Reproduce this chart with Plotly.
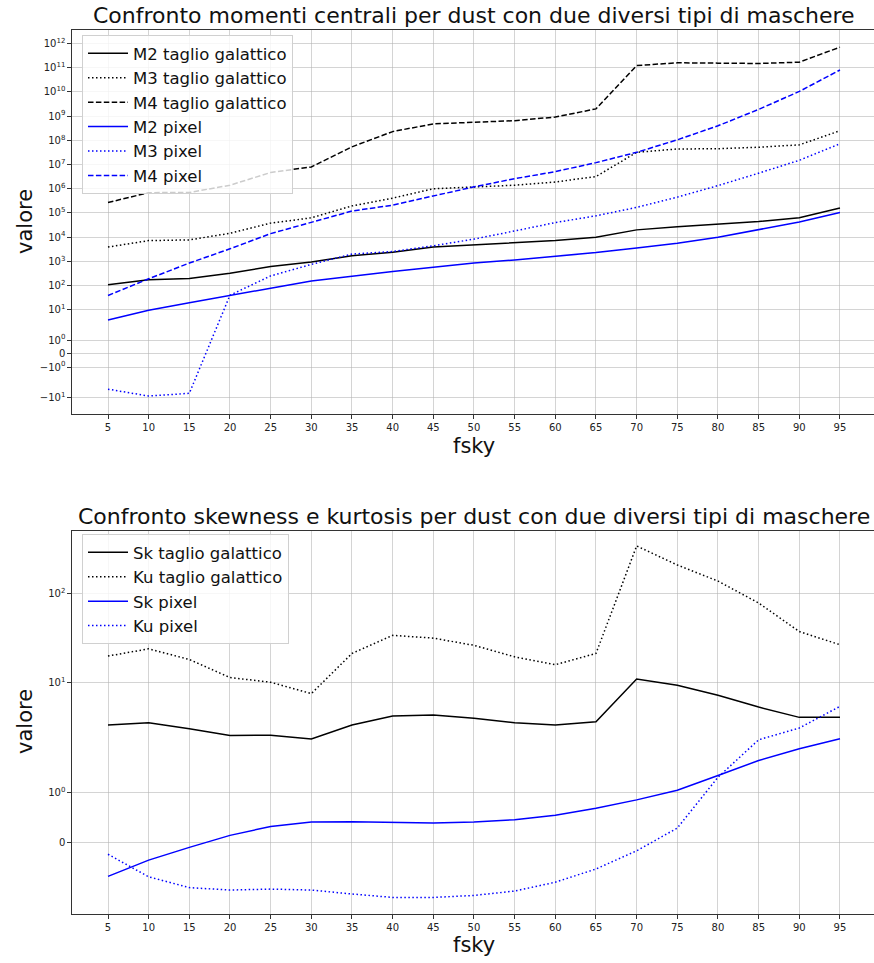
import numpy as np
import plotly.graph_objects as go

# ---- data -------------------------------------------------------------
fsky = [5, 10, 15, 20, 25, 30, 35, 40, 45, 50, 55, 60, 65, 70, 75, 80, 85, 90, 95]

m2_taglio = [107, 172, 195, 325, 610, 940, 1700, 2400, 3900, 4800, 5600, 7200,
             1.0e4, 2.0e4, 2.7e4, 3.5e4, 4.4e4, 6.4e4, 1.6e5]
m3_taglio = [3900, 7200, 7700, 1.45e4, 3.8e4, 6.3e4, 1.96e5, 4.1e5, 1.0e6, 1.2e6,
             1.4e6, 1.9e6, 3.2e6, 3.2e7, 4.4e7, 4.5e7, 5.2e7, 6.5e7, 2.5e8]
m4_taglio = [2.7e5, 6.9e5, 7.0e5, 1.4e6, 4.7e6, 8.0e6, 5.4e7, 2.3e8, 4.8e8, 5.6e8,
             6.5e8, 9.2e8, 2.0e9, 1.23e11, 1.6e11, 1.55e11, 1.5e11, 1.7e11, 7.1e11]
m2_pixel = [3.8, 9.5, 19.5, 40, 78, 155, 250, 380, 570, 850, 1150, 1600, 2300,
            3600, 5600, 1.0e4, 2.0e4, 4.2e4, 1.05e5]
m3_pixel = [-4.6, -8.8, -6.8, 40, 250, 750, 2000, 2550, 4400, 8300, 1.8e4, 4.0e4,
            7.6e4, 1.7e5, 4.5e5, 1.35e6, 4.4e6, 1.5e7, 7.2e7]
m4_pixel = [39, 190, 850, 3300, 1.4e4, 4.2e4, 1.2e5, 2.1e5, 5.2e5, 1.2e6, 2.6e6,
            5.1e6, 1.2e7, 3.2e7, 1.05e8, 4.0e8, 1.9e9, 1.05e10, 8.1e10]

sk_taglio = [3.28, 3.48, 2.98, 2.50, 2.51, 2.27, 3.27, 4.15, 4.26, 3.91, 3.48, 3.27,
             3.57, 10.9, 9.27, 7.11, 5.23, 4.0, 4.0]
ku_taglio = [19.8, 23.9, 18.1, 11.3, 10.0, 7.43, 21.2, 34, 31.6, 26.2, 19.4, 15.8,
             21.2, 350, 213, 140, 79, 37.5, 26.6]
sk_pixel = [-0.70, -0.37, -0.11, 0.135, 0.318, 0.408, 0.414, 0.394, 0.388, 0.408,
            0.455, 0.544, 0.687, 0.859, 1.056, 1.356, 1.662, 1.90, 2.29]
ku_pixel = [-0.25, -0.71, -0.93, -0.98, -0.96, -0.98, -1.06, -1.13, -1.13, -1.09,
            -1.00, -0.82, -0.55, -0.18, 0.285, 1.32, 2.23, 3.03, 5.33]

top_ticks = [1e12, 1e11, 1e10, 1e9, 1e8, 1e7, 1e6, 1e5, 1e4, 1e3, 1e2, 1e1, 1, 0, -1, -10]
top_ticktext = ["10<sup>12</sup>", "10<sup>11</sup>", "10<sup>10</sup>", "10<sup>9</sup>",
                "10<sup>8</sup>", "10<sup>7</sup>", "10<sup>6</sup>", "10<sup>5</sup>",
                "10<sup>4</sup>", "10<sup>3</sup>", "10<sup>2</sup>", "10<sup>1</sup>",
                "10<sup>0</sup>", "0", "\u221210<sup>0</sup>", "\u221210<sup>1</sup>"]
bot_ticks = [1e2, 1e1, 1, 0]
bot_ticktext = ["10<sup>2</sup>", "10<sup>1</sup>", "10<sup>0</sup>", "0"]

# ---- symmetric log scale (linthresh=2, linscale=1), in decade units ----
LINTHRESH = 2.0
LINSCALE_ADJ = 1.0 / (1.0 - 1.0 / 10.0)


def symlog(values):
    v = np.asarray(values, dtype=float)
    a = np.abs(v)
    out = np.where(
        a <= LINTHRESH,
        v * LINSCALE_ADJ / LINTHRESH,
        np.sign(v) * (LINSCALE_ADJ + np.log10(np.maximum(a, 1e-300) / LINTHRESH)),
    )
    return out


W, H = 874, 963


def px(x):
    return x / W


def py(y):
    return 1 - y / H


BLACK = "#000000"
BLUE = "#0000ff"
DASH = "5.5px,2.4px"
DOT = "1.5px,2.5px"
FONT = "DejaVu Sans"

fig = go.Figure()

top_series = [
    ("M2 taglio galattico", m2_taglio, BLACK, "solid"),
    ("M3 taglio galattico", m3_taglio, BLACK, DOT),
    ("M4 taglio galattico", m4_taglio, BLACK, DASH),
    ("M2 pixel", m2_pixel, BLUE, "solid"),
    ("M3 pixel", m3_pixel, BLUE, DOT),
    ("M4 pixel", m4_pixel, BLUE, DASH),
]
for name, vals, col, dash in top_series:
    fig.add_trace(go.Scatter(
        x=fsky, y=symlog(vals), mode="lines", name=name,
        line=dict(color=col, width=1.5, dash=dash),
        xaxis="x", yaxis="y", legend="legend",
    ))

bot_series = [
    ("Sk taglio galattico", sk_taglio, BLACK, "solid"),
    ("Ku taglio galattico", ku_taglio, BLACK, DOT),
    ("Sk pixel", sk_pixel, BLUE, "solid"),
    ("Ku pixel", ku_pixel, BLUE, DOT),
]
for name, vals, col, dash in bot_series:
    fig.add_trace(go.Scatter(
        x=fsky, y=symlog(vals), mode="lines", name=name,
        line=dict(color=col, width=1.5, dash=dash),
        xaxis="x2", yaxis="y2", legend="legend2",
    ))

x_left, x_right = 72, 874
x_lo = 5 - (108 - x_left) / 8.133
x_hi = 5 + (x_right - 108) / 8.133

xcommon = dict(
    range=[x_lo, x_hi], tickmode="array", tickvals=fsky,
    ticktext=[str(v) for v in fsky],
    showgrid=True, gridcolor="rgba(176,176,176,0.55)", gridwidth=1,
    showline=True, linecolor="#333333", linewidth=1.2, mirror=True,
    ticks="outside", ticklen=3.5, tickwidth=1, tickcolor="#333333",
    tickfont=dict(family=FONT, size=10, color="#222222"),
    zeroline=False, domain=[px(x_left), 1.0],
)
ycommon = dict(
    tickmode="array",
    showgrid=True, gridcolor="rgba(176,176,176,0.55)", gridwidth=1,
    showline=True, linecolor="#333333", linewidth=1.2,
    ticks="outside", ticklen=3.5, tickwidth=1, tickcolor="#333333",
    tickfont=dict(family=FONT, size=10, color="#222222"),
    zeroline=False,
)

legend_style = dict(
    xanchor="left", yanchor="top",
    bgcolor="rgba(255,255,255,0.8)", bordercolor="#d0d0d0", borderwidth=1,
    font=dict(family=FONT, size=16.5, color="#111111"),
    tracegroupgap=0, itemwidth=40,
)

fig.update_layout(
    width=W, height=H,
    margin=dict(l=0, r=0, t=0, b=0),
    paper_bgcolor="white", plot_bgcolor="white",
    font=dict(family=FONT),
    xaxis=dict(**xcommon, anchor="y"),
    yaxis=dict(**ycommon, anchor="x",
               domain=[py(414.3), py(30)],
               range=[-2.51, 13.37],
               tickvals=symlog(top_ticks).tolist(), ticktext=top_ticktext),
    xaxis2=dict(**xcommon, anchor="y2"),
    yaxis2=dict(**ycommon, anchor="x2",
                domain=[py(914.3), py(530.7)],
                range=[-0.819, 3.527],
                tickvals=symlog(bot_ticks).tolist(), ticktext=bot_ticktext),
    legend=dict(x=px(82), y=py(35), **legend_style),
    legend2=dict(x=px(82), y=py(534), **legend_style),
    showlegend=True,
)

ann = [
    dict(text="Confronto momenti centrali per dust con due diversi tipi di maschere",
         x=px(474), y=py(16), size=22, angle=0),
    dict(text="Confronto skewness e kurtosis per dust con due diversi tipi di maschere",
         x=px(474), y=py(516), size=22, angle=0),
    dict(text="fsky", x=px(474), y=py(446), size=21, angle=0),
    dict(text="fsky", x=px(474), y=py(945), size=21, angle=0),
    dict(text="valore", x=px(25), y=py(222), size=21, angle=-90),
    dict(text="valore", x=px(25), y=py(722), size=21, angle=-90),
]
for a in ann:
    fig.add_annotation(
        text=a["text"], x=a["x"], y=a["y"], xref="paper", yref="paper",
        xanchor="center", yanchor="middle", showarrow=False, textangle=a["angle"],
        font=dict(family=FONT, size=a["size"], color="#111111"),
    )

fig.write_html("out.html")
